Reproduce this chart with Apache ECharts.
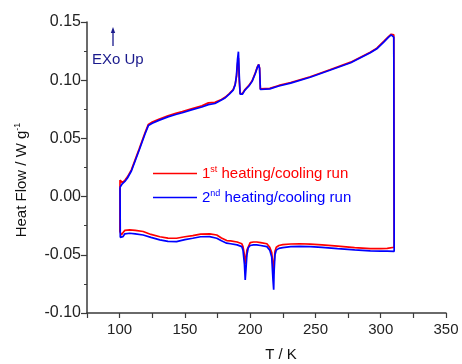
<!DOCTYPE html>
<html>
<head>
<meta charset="utf-8">
<script src="https://cdn.jsdelivr.net/npm/echarts@6/dist/echarts.min.js"></script>
<style>html,body{margin:0;padding:0;background:#fff}#c{width:462px;height:364px}</style>
</head>
<body>
<div id="c"></div>
<script>
// ---- data ----
const seriesNames = ['1st heating/cooling run', '2nd heating/cooling run'];
const xTickLabels = [100, 150, 200, 250, 300, 350];
const yTickLabels = [-0.10, -0.05, 0.00, 0.05, 0.10, 0.15];

const tempHeating = [100.3,102,104,106,109,112,115,119.5,122,125,130,137,143,148,155,163,168,173,178,181,184,187,188.5,189.5,190.3,191,191.6,192.3,194,196,199,201.5,204,205.5,206.5,207.2,207.8,209,215,222,231,246,261,277,292,297,302.5,306,308,309.2,310];
const run1Heating = [0.0143,0.012,0.014,0.017,0.023,0.032,0.041,0.055,0.062,0.064,0.0665,0.0695,0.0715,0.073,0.0755,0.078,0.0805,0.081,0.0835,0.0855,0.0885,0.092,0.0965,0.103,0.114,0.119,0.100,0.0885,0.0885,0.092,0.0955,0.0995,0.1065,0.1115,0.1135,0.1105,0.0925,0.091,0.093,0.0955,0.098,0.103,0.109,0.1155,0.124,0.1275,0.1335,0.1375,0.1395,0.1405,0.139];
const run2Heating = [0.008,0.011,0.013,0.016,0.022,0.031,0.040,0.054,0.061,0.063,0.0655,0.0685,0.0705,0.072,0.0745,0.077,0.079,0.080,0.083,0.085,0.088,0.0915,0.096,0.104,0.118,0.1245,0.105,0.088,0.088,0.0915,0.095,0.099,0.106,0.111,0.1135,0.110,0.092,0.0905,0.0925,0.095,0.0975,0.1025,0.1085,0.115,0.1235,0.127,0.133,0.137,0.139,0.1395,0.137];

const tempCooling = [310.3,305,300,292,280,267,255,246,238,231,225,222,220,219,218.3,218,217.5,216.5,215,212.8,208,205,202.5,200,198.5,197.5,196.8,196.2,195.6,194.5,193.6,190,185,182,178,174.4,169,162,156,150,143.6,137,130.8,124,118,112,107.7,104,102.5,101.3,100.5,100.2];
const run1Cooling = [-0.0435,-0.0445,-0.0447,-0.0447,-0.0438,-0.0425,-0.0414,-0.0408,-0.0405,-0.0407,-0.0413,-0.042,-0.0435,-0.047,-0.057,-0.066,-0.060,-0.048,-0.0435,-0.0405,-0.0395,-0.039,-0.039,-0.0395,-0.041,-0.046,-0.054,-0.058,-0.050,-0.043,-0.0405,-0.039,-0.038,-0.0378,-0.0355,-0.033,-0.032,-0.0322,-0.0335,-0.0345,-0.0358,-0.0357,-0.0345,-0.0325,-0.030,-0.029,-0.0286,-0.029,-0.031,-0.033,-0.032,-0.030];
const run2Cooling = [-0.047,-0.0468,-0.0468,-0.0467,-0.0458,-0.0447,-0.0436,-0.043,-0.0428,-0.043,-0.0438,-0.0445,-0.046,-0.050,-0.065,-0.080,-0.072,-0.052,-0.046,-0.043,-0.042,-0.0415,-0.0415,-0.042,-0.044,-0.050,-0.062,-0.0716,-0.058,-0.046,-0.043,-0.0415,-0.0405,-0.040,-0.038,-0.0358,-0.0344,-0.0345,-0.0358,-0.037,-0.0387,-0.0385,-0.0372,-0.035,-0.033,-0.032,-0.0315,-0.032,-0.0344,-0.0358,-0.035,-0.034];

function loop(h, c) {
  const pts = tempHeating.map((t, i) => [t, h[i]]).concat(tempCooling.map((t, i) => [t, c[i]]));
  pts.push(pts[0]);
  return pts;
}

const FONT = '"Liberation Sans", Arial, sans-serif';
const RED = '#ff0000', BLUE = '#0000ff', NAVY = '#1a1a8c', AX = '#3a3a3a';

const chart = echarts.init(document.getElementById('c'), null, {renderer: 'canvas'});
chart.setOption({
  animation: false,
  backgroundColor: '#ffffff',
  grid: {left: 87, right: 16, top: 22, bottom: 51, containLabel: false},
  xAxis: {
    type: 'value', min: 75, max: 350, interval: 25,
    axisLine: {show: true, onZero: false, lineStyle: {color: AX, width: 1.5}},
    axisTick: {show: true, inside: false, length: 5, lineStyle: {color: AX, width: 1.2}},
    axisLabel: {
      margin: 9, color: '#222', fontSize: 15, fontFamily: FONT,
      formatter: v => xTickLabels.indexOf(v) >= 0 ? String(v) : ''
    },
    splitLine: {show: false}
  },
  yAxis: {
    type: 'value', min: -0.10, max: 0.15, interval: 0.05,
    axisLine: {show: true, onZero: false, lineStyle: {color: AX, width: 1.5}},
    axisTick: {show: true, inside: false, length: 6, lineStyle: {color: AX, width: 1.2}},
    minorTick: {show: true, splitNumber: 2, length: 3, lineStyle: {color: AX, width: 1}},
    axisLabel: {
      margin: 6, color: '#222', fontSize: 16, fontFamily: FONT,
      formatter: v => {
        const m = yTickLabels.find(t => Math.abs(t - v) < 1e-9);
        return m === undefined ? '' : m.toFixed(2);
      }
    },
    splitLine: {show: false}
  },
  legend: {
    orient: 'vertical', left: 148, top: 160, itemWidth: 44, itemHeight: 12, itemGap: 8,
    icon: 'path://M0,5 L44,5 L44,6.5 L0,6.5 Z',
    data: [
      {name: seriesNames[0], textStyle: {color: RED}},
      {name: seriesNames[1], textStyle: {color: BLUE}}
    ],
    formatter: name => {
      const k = name.startsWith('1') ? 'r' : 'b';
      return '{' + k + 'n|' + name.slice(0, 1) + '}{' + k + 's|' + name.slice(1, 3) + '}{' + k + 'n|' + name.slice(3) + '}';
    },
    textStyle: {
      fontSize: 15, fontFamily: FONT, padding: [0, 0, 0, 0],
      rich: {
        rn: {color: RED, fontSize: 15, fontFamily: FONT},
        rs: {color: RED, fontSize: 9, fontFamily: FONT, verticalAlign: 'top', padding: [0, 0, 8, 0]},
        bn: {color: BLUE, fontSize: 15, fontFamily: FONT},
        bs: {color: BLUE, fontSize: 9, fontFamily: FONT, verticalAlign: 'top', padding: [0, 0, 8, 0]}
      }
    }
  },
  series: [
    {name: seriesNames[0], type: 'line', data: loop(run1Heating, run1Cooling), symbol: 'none',
     lineStyle: {color: RED, width: 1.7}, itemStyle: {color: RED}, z: 2},
    {name: seriesNames[1], type: 'line', data: loop(run2Heating, run2Cooling), symbol: 'none',
     lineStyle: {color: BLUE, width: 1.7}, itemStyle: {color: BLUE}, z: 3}
  ],
  graphic: [
    {type: 'text', x: 22, y: 180, rotation: Math.PI / 2,
     style: {text: '{a|Heat Flow / W g}{s|-1}', align: 'center', verticalAlign: 'middle',
       rich: {a: {fontSize: 15, fontFamily: FONT, fill: '#111'},
              s: {fontSize: 9, fontFamily: FONT, fill: '#111', verticalAlign: 'top', padding: [0, 0, 8, 0]}}}},
    {type: 'text', x: 281, y: 355,
     style: {text: 'T / K', fontSize: 15, fontFamily: FONT, fill: '#111', align: 'center', verticalAlign: 'middle'}},
    {type: 'text', x: 92, y: 60,
     style: {text: 'EXo Up', fontSize: 15, fontFamily: FONT, fill: NAVY, align: 'left', verticalAlign: 'middle'}},
    {type: 'line', shape: {x1: 113, y1: 46, x2: 113, y2: 30}, style: {stroke: NAVY, lineWidth: 1.3}},
    {type: 'polygon', shape: {points: [[110.8, 33], [113, 27], [115.2, 33]]}, style: {fill: NAVY}}
  ]
});
</script>
</body>
</html>
